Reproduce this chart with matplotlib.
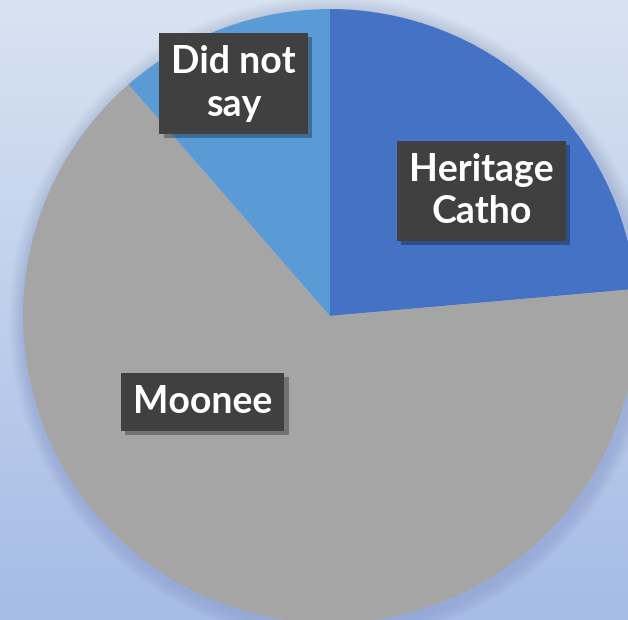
import numpy as np
import matplotlib.pyplot as plt
import matplotlib.patheffects as pe
from matplotlib.patches import Circle

labels = ['Heritage\nCatho', 'Moonee', 'Did not\nsay']
shares = [23.6, 65.0, 11.4]
colors = ['#4472C4', '#A5A5A5', '#5B9BD5']
# label spots as (fraction of radius, angle in degrees)
label_spots = [(0.64, 39.5), (0.50, 214.0), (0.82, 112.5)]

W, H = 628, 620
cx, cy, R = 330, 304, 307

fig = plt.figure(figsize=(W / 100, H / 100), dpi=100)
ax = fig.add_axes([0, 0, 1, 1])

# background gradient
grad = np.linspace(0, 1, 256).reshape(-1, 1)
top = np.array([0xd8, 0xe3, 0xf2]) / 255
bot = np.array([0xa6, 0xbc, 0xe6]) / 255
img = (top * (1 - grad) + bot * grad).reshape(256, 1, 3)
ax.imshow(img, extent=[0, W, 0, H], aspect='auto', zorder=0, origin='upper')

# soft shadow around pie
for i in range(14):
    ax.add_patch(Circle((cx + 2, cy - 3), R + 16 - i, color='#7080b0',
                        alpha=0.018, lw=0, zorder=1))

wedges, _ = ax.pie(shares, colors=colors, startangle=90, counterclock=False,
                   center=(cx, cy), radius=R, frame=True,
                   wedgeprops=dict(linewidth=0))
for w in wedges:
    w.set_zorder(2)
ax.set_xlim(0, W)
ax.set_ylim(0, H)
ax.set_aspect('auto')
ax.axis('off')

for lab, (fr, ang) in zip(labels, label_spots):
    x = cx + fr * R * np.cos(np.radians(ang))
    y = cy + fr * R * np.sin(np.radians(ang))
    t = ax.text(x, y, lab, ha='center', va='center', color='white',
                fontsize=27, fontweight='bold', family=['Lato', 'DejaVu Sans'],
                linespacing=1.3, zorder=5,
                bbox=dict(boxstyle='square,pad=0.32', fc='#404040', ec='none'))
    t.get_bbox_patch().set_path_effects([
        pe.SimplePatchShadow(offset=(3, -3), shadow_rgbFace='#000000', alpha=0.3),
        pe.Normal()])

fig.savefig('out.png', dpi=100)
